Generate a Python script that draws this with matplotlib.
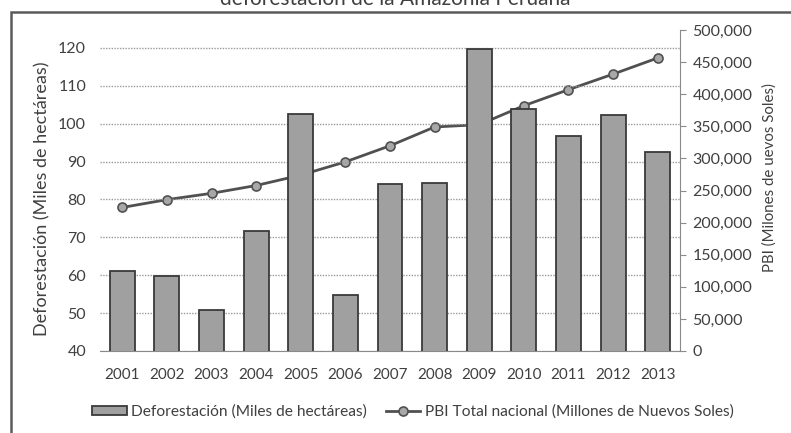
import matplotlib.pyplot as plt
from matplotlib.patches import Rectangle
from matplotlib.ticker import FuncFormatter

years = ["2001", "2002", "2003", "2004", "2005", "2006", "2007",
         "2008", "2009", "2010", "2011", "2012", "2013"]
# miles de hectáreas
deforestacion = [61.2, 59.9, 50.8, 71.7, 102.6, 54.8, 84.0,
                 84.4, 119.6, 103.8, 96.8, 102.2, 92.4]
# millones de soles
pbi = [223580, 235773, 245593, 257770, 273971, 294598, 319693,
       348923, 352584, 382081, 407052, 431273, 456435]

TXT = "#404040"
plt.rcParams["font.family"] = ["Lato", "DejaVu Sans"]

fig = plt.figure(figsize=(7.91, 4.33), dpi=100)
fig.patch.set_facecolor("white")

# outer chart frame (only top and left edges fall inside the image)
fig.add_artist(Rectangle((11 / 791, -0.2), 1.2, 1.2 - 12 / 433,
                         transform=fig.transFigure, fill=False,
                         edgecolor="#5a5a5a", linewidth=1.8))
fig.text(0.5, 1.0 + 1 / 433, "deforestación de la Amazonía Peruana",
         ha="center", va="center", fontsize=15, color=TXT)

ax = fig.add_axes([100 / 791, 82 / 433, 580 / 791, 321 / 433])
ax2 = ax.twinx()
# bars sit in front of the PBI line
ax.set_zorder(ax2.get_zorder() + 1)
ax.patch.set_visible(False)

x = list(range(len(years)))
ax.bar(x, deforestacion, width=0.56, color="#a0a0a0",
       edgecolor="#3a3a3a", linewidth=1.3, zorder=3,
       label="Deforestación (Miles de hectáreas)")
ax2.plot(x, pbi, color="#505050", linewidth=2, marker="o", markersize=6.5,
         markerfacecolor="#a8a8a8", markeredgecolor="#505050",
         markeredgewidth=1.2, label="PBI Total nacional (Millones de Nuevos Soles)")

ax.set_xlim(-0.5, 12.5)
ax.set_ylim(40, 124.7)
ax.set_yticks(range(40, 121, 10))
ax2.set_ylim(0, 500000)
ax2.set_yticks(range(0, 500001, 50000))
ax2.yaxis.set_major_formatter(FuncFormatter(lambda v, p: f"{int(v):,}"))

ax.grid(axis="y", color="#9a9a9a", linestyle=(0, (1, 1)), linewidth=1, zorder=0)
ax.set_axisbelow(True)
ax.set_xticks(x)
ax.set_xticklabels(years)

for s in ["top", "left", "right"]:
    ax.spines[s].set_visible(False)
ax.spines["bottom"].set_color("#8a8a8a")
ax.spines["bottom"].set_linestyle((0, (1, 1)))
for s in ["top", "left", "bottom"]:
    ax2.spines[s].set_visible(False)
ax2.spines["right"].set_color("#8a8a8a")

ax.tick_params(axis="y", length=0, pad=10, labelsize=11.5, labelcolor=TXT)
ax.tick_params(axis="x", length=0, pad=12, labelsize=11, labelcolor=TXT)
ax2.tick_params(axis="y", length=4, color="#8a8a8a", pad=5,
                labelsize=11.5, labelcolor=TXT)

ax.set_ylabel("Deforestación (Miles de hectáreas)", fontsize=13, color=TXT)
ax.yaxis.set_label_coords(-0.086, 0.475)
ax2.set_ylabel("PBI (Milones de uevos Soles)", fontsize=10.8, color=TXT)
ax2.yaxis.set_label_coords(1.142, 0.54)

h1, l1 = ax.get_legend_handles_labels()
h2, l2 = ax2.get_legend_handles_labels()
fig.legend(h1 + h2, l1 + l2, loc="center",
           bbox_to_anchor=(413 / 791, 1 - 412 / 433),
           ncol=2, frameon=False, fontsize=11.2, labelcolor=TXT,
           handlelength=2.2, handleheight=0.5, columnspacing=1.2,
           handletextpad=0.3)

fig.savefig("out.png", dpi=100, facecolor="white")
